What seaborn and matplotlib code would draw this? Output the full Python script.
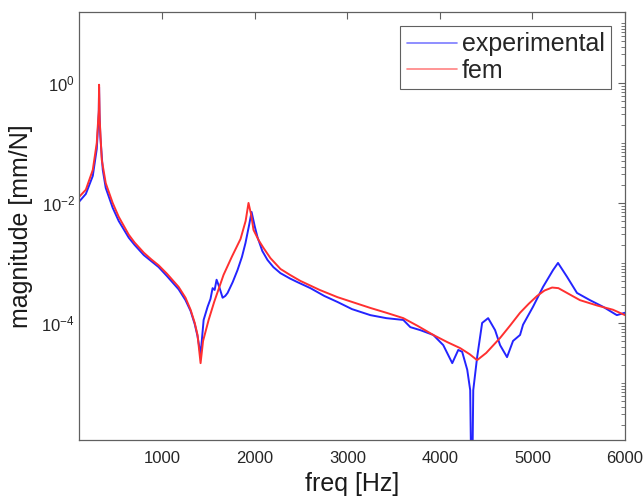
import numpy as np
import pandas as pd
import matplotlib
matplotlib.use('Agg')
import matplotlib.pyplot as plt
import seaborn as sns
from matplotlib.ticker import LogLocator, FixedLocator, NullFormatter

# values (log10 of magnitude in mm/N)
exp_freq = [100, 173, 248, 291, 313, 316, 320, 330, 356, 388, 463, 528, 637, 700, 800, 880,
            960, 1050, 1176, 1250, 1305, 1350, 1380, 1413, 1446, 1489, 1520, 1543, 1565,
            1586, 1615, 1651, 1680, 1705, 1760, 1812, 1860, 1898, 1940, 1964, 2000, 2028,
            2080, 2136, 2200, 2276, 2380, 2460, 2600, 2750, 2892, 3050, 3248, 3420, 3604,
            3680, 3788, 3928, 4036, 4133, 4198, 4240, 4295, 4327, 4338, 4350, 4360, 4402,
            4456, 4521, 4596, 4650, 4725, 4790, 4866, 4898, 5006, 5114, 5222, 5276, 5373,
            5481, 5621, 5762, 5912, 6000]
exp_log = [-1.98, -1.85, -1.55, -1.1, -0.5, -0.07, -0.5, -0.9, -1.45, -1.75, -2.08, -2.3,
           -2.58, -2.7, -2.87, -2.97, -3.07, -3.22, -3.44, -3.62, -3.8, -4.02, -4.22, -4.53,
           -3.95, -3.73, -3.6, -3.42, -3.45, -3.28, -3.4, -3.58, -3.55, -3.5, -3.32, -3.12,
           -2.9, -2.67, -2.35, -2.15, -2.4, -2.57, -2.8, -2.95, -3.07, -3.17, -3.26, -3.32,
           -3.42, -3.55, -3.65, -3.77, -3.87, -3.92, -3.95, -4.07, -4.12, -4.2, -4.37, -4.67,
           -4.45, -4.48, -4.78, -5.12, -6.5, -6.5, -5.12, -4.57, -4.0, -3.92, -4.12, -4.37,
           -4.57, -4.3, -4.2, -4.03, -3.73, -3.4, -3.12, -3.0, -3.23, -3.5, -3.62, -3.73,
           -3.87, -3.83]

fem_freq = [100, 173, 248, 291, 313, 316, 323, 345, 388, 463, 528, 637, 700, 800, 880, 960,
            1050, 1176, 1250, 1305, 1350, 1380, 1413, 1440, 1500, 1560, 1661, 1750, 1845,
            1900, 1931, 1960, 1985, 2040, 2093, 2168, 2276, 2380, 2492, 2700, 2892, 3050,
            3248, 3420, 3604, 3760, 3928, 4080, 4219, 4320, 4402, 4500, 4650, 4760, 4866,
            4960, 5050, 5130, 5212, 5280, 5350, 5513, 5700, 5870, 6000]
fem_log = [-1.9, -1.78, -1.45, -1.0, -0.45, -0.03, -0.62, -1.28, -1.67, -2.0, -2.23, -2.53,
           -2.66, -2.83, -2.94, -3.04, -3.18, -3.4, -3.58, -3.78, -4.0, -4.2, -4.67, -4.3,
           -3.95, -3.65, -3.2, -2.9, -2.6, -2.3, -2.0, -2.2, -2.45, -2.62, -2.75, -2.92,
           -3.1, -3.2, -3.3, -3.45, -3.57, -3.65, -3.75, -3.83, -3.92, -4.05, -4.2, -4.32,
           -4.42, -4.52, -4.62, -4.5, -4.25, -4.04, -3.83, -3.68, -3.55, -3.46, -3.41, -3.42,
           -3.48, -3.62, -3.71, -3.78, -3.87]

df = pd.concat([
    pd.DataFrame({'freq': exp_freq, 'mag': np.power(10.0, exp_log), 'src': 'experimental'}),
    pd.DataFrame({'freq': fem_freq, 'mag': np.power(10.0, fem_log), 'src': 'fem'}),
])

sns.set_style('white')
plt.rcParams['font.family'] = ['Liberation Sans', 'DejaVu Sans']
plt.rcParams['mathtext.fontset'] = 'custom'
plt.rcParams['mathtext.rm'] = 'Liberation Sans'
plt.rcParams['mathtext.it'] = 'Liberation Sans'

fig = plt.figure(figsize=(6.43, 5.0), dpi=100)
ax = fig.add_axes([0.123, 0.12, 0.849, 0.856])

sns.lineplot(data=df, x='freq', y='mag', hue='src', estimator=None, sort=False,
             palette={'experimental': '#2424ff', 'fem': '#ff3030'}, linewidth=1.4, ax=ax)

ax.set_yscale('log')
ax.set_xlim(100, 6000)
ax.set_ylim(1.12e-6, 15.2)
ax.set_xticks([1000, 2000, 3000, 4000, 5000, 6000])
ax.yaxis.set_major_locator(FixedLocator([1e-4, 1e-2, 1e0]))
ax.yaxis.set_minor_locator(LogLocator(base=10, subs=np.arange(1, 10), numticks=20))
ax.yaxis.set_minor_formatter(NullFormatter())

ax.tick_params(axis='both', which='both', direction='in', top=True, right=True,
               colors='#606060', labelcolor='#262626', labelsize=12)
ax.tick_params(axis='x', pad=8)
ax.tick_params(axis='y', pad=3)
ax.tick_params(which='major', length=5, width=0.8)
ax.tick_params(which='minor', length=3, width=0.6)
for s in ax.spines.values():
    s.set_color('#606060')
    s.set_linewidth(0.9)

ax.set_xlabel('freq [Hz]', fontsize=18, color='#1a1a1a', labelpad=4)
ax.set_ylabel('magnitude [mm/N]', fontsize=18, color='#1a1a1a', labelpad=6)

leg = ax.legend(loc='upper right', bbox_to_anchor=(0.974, 0.967), borderaxespad=0,
                fontsize=18, fancybox=False, framealpha=1, edgecolor='#606060',
                handlelength=2.0, handletextpad=0.2, borderpad=0.25, labelspacing=0.1)
leg.get_frame().set_linewidth(0.8)
for line in leg.get_lines():
    line.set_linewidth(1.2)
    line.set_alpha(0.6)

fig.savefig('out.png', dpi=100)
